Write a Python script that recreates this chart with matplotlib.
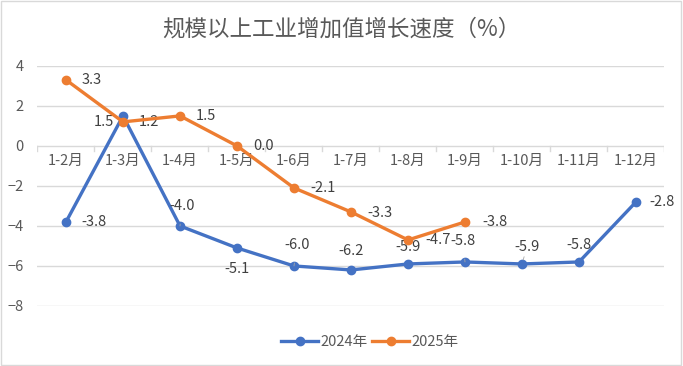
import matplotlib

matplotlib.use("Agg")
import matplotlib.pyplot as plt
from matplotlib.lines import Line2D
from matplotlib.patches import Rectangle

plt.rcParams["font.family"] = ["Noto Sans CJK SC", "DejaVu Sans"]

CATEGORIES = ["1-2月", "1-3月", "1-4月", "1-5月", "1-6月", "1-7月",
              "1-8月", "1-9月", "1-10月", "1-11月", "1-12月"]
VALUES_2024 = [-3.8, 1.5, -4.0, -5.1, -6.0, -6.2, -5.9, -5.8, -5.9, -5.8, -2.8]
VALUES_2025 = [3.3, 1.2, 1.5, 0.0, -2.1, -3.3, -4.7, -3.8]
SERIES_NAMES = ["2024年", "2025年"]
TITLE = "规模以上工业增加值增长速度（%）"

BLUE = "#4472C4"
ORANGE = "#ED7D31"
GRID = "#d9d9d9"
TEXT = "#595959"

# label placement (pixel offsets, ha, leader line)
OFF_2024 = [(15, 0, "left", False), (-9, -6, "right", False), (2, 20, "center", True),
            (0, -21, "center", False), (3, 21, "center", True), (0, 19, "center", False),
            (0, 17, "center", False), (-2, 21, "center", True), (5, 17, "center", True),
            (0, 17, "center", False), (13, 0, "left", False)]
OFF_2025 = [(16, 0, "left", False)] * 5 + [(16, -1, "left", False), (17, 0, "left", False),
                                           (17, 0, "left", False)]


def label_points(ax, values, offsets):
    for i, (v, (dx, dy, ha, lead)) in enumerate(zip(values, offsets)):
        kw = {}
        if lead:
            kw["arrowprops"] = dict(arrowstyle="-", color="#a6a6a6", lw=0.6,
                                    shrinkA=6, shrinkB=3)
        ax.annotate(f"{v:.1f}", xy=(i, v), xytext=(dx, dy), textcoords="offset pixels",
                    ha=ha, va="center", fontsize=10.5, color="#404040", **kw)


def main():
    fig = plt.figure(figsize=(6.83, 3.66), dpi=100)
    ax = fig.add_axes([0.0549, 0.164, 0.918, 0.656])
    fig.patches.append(Rectangle((0.002, 0.003), 0.995, 0.993, transform=fig.transFigure,
                                 fill=False, edgecolor=GRID, lw=1.0))

    ax.set_xlim(-0.5, len(CATEGORIES) - 0.5)
    ax.set_ylim(-8, 4)
    ax.set_yticks(range(-8, 5, 2))
    ax.yaxis.grid(True, color=GRID, lw=1.0)
    ax.set_axisbelow(True)
    ax.set_xticks([])
    for s in ax.spines.values():
        s.set_visible(False)
    ax.tick_params(axis="y", length=0, labelsize=10.5, labelcolor=TEXT, pad=10)

    # category axis drawn on the zero line
    for b in range(len(CATEGORIES) + 1):
        ax.plot([b - 0.5, b - 0.5], [0, -0.25], color=GRID, lw=1.0, zorder=1)
    for i, c in enumerate(CATEGORIES):
        ax.annotate(c, xy=(i, 0), xytext=(0, -15), textcoords="offset pixels",
                    ha="center", va="center", fontsize=10.5, color=TEXT)

    x24 = range(len(VALUES_2024))
    x25 = range(len(VALUES_2025))
    ax.plot(x24, VALUES_2024, color=BLUE, lw=2.4, marker="o", ms=6, zorder=3)
    ax.plot(x25, VALUES_2025, color=ORANGE, lw=2.4, marker="o", ms=6, zorder=4)

    label_points(ax, VALUES_2024, OFF_2024)
    label_points(ax, VALUES_2025, OFF_2025)

    fig.text(0.5, 0.921, TITLE, ha="center", va="center", fontsize=16.2, color=TEXT)

    handles = [Line2D([], [], color=BLUE, lw=2.4, marker="o", ms=6),
               Line2D([], [], color=ORANGE, lw=2.4, marker="o", ms=6)]
    fig.legend(handles, SERIES_NAMES, loc="center", bbox_to_anchor=(0.542, 0.066), ncol=2,
               frameon=False, fontsize=10.5, labelcolor=TEXT, handlelength=2.5,
               columnspacing=0.3, handletextpad=0.2)

    fig.savefig("out.png", dpi=100)


if __name__ == "__main__":
    main()
